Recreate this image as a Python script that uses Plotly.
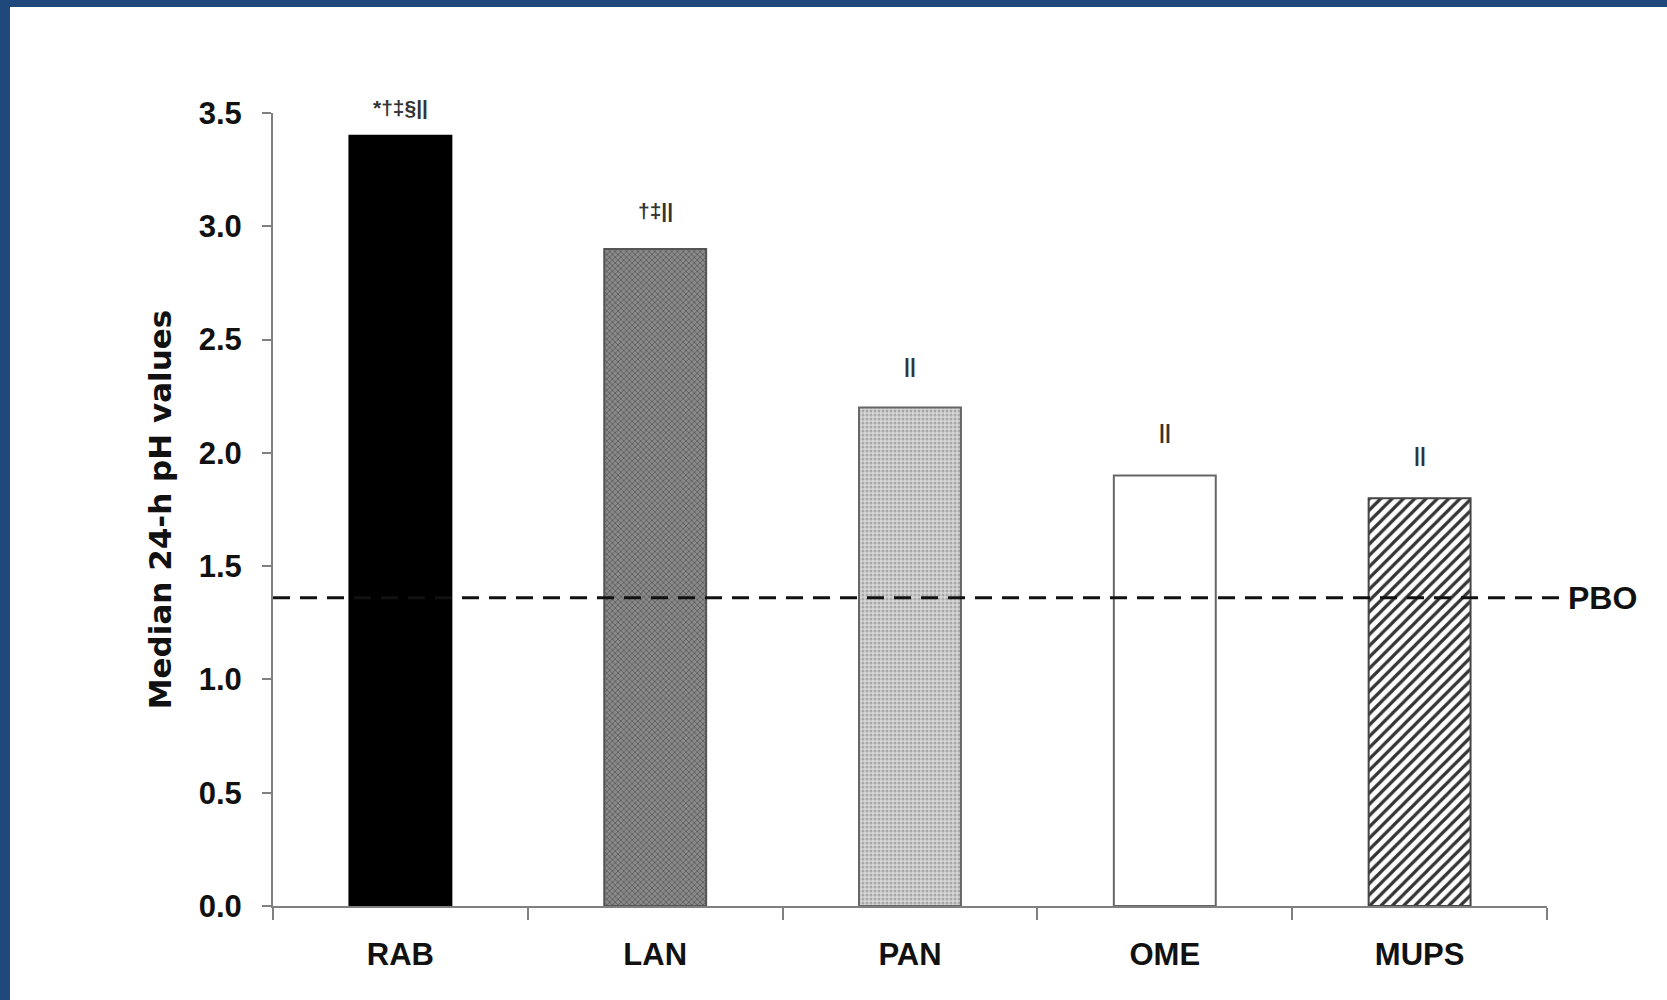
import plotly.graph_objects as go

# ---- data ----
categories = ["RAB", "LAN", "PAN", "OME", "MUPS"]
median_ph = [3.40, 2.90, 2.20, 1.90, 1.80]
sig_labels = ["*†‡§||", "†‡||", "||", "||", "||"]
pbo_value = 1.36
pbo_label = "PBO"
y_title = "Median 24-h pH values"
y_ticks = [0.0, 0.5, 1.0, 1.5, 2.0, 2.5, 3.0, 3.5]

# ---- styles ----
pattern_shapes = ["", "x", ".", "", "/"]
pattern_fg = ["#000000", "#555555", "#a8a8a8", "#ffffff", "#333333"]
pattern_bg = ["#000000", "#8a8a8a", "#d8d8d8", "#ffffff", "#ffffff"]
pattern_size = [8, 4, 4, 8, 8]
pattern_solid = [0.3, 0.35, 0.45, 0.3, 0.4]
outline_colors = ["#000000", "#555555", "#666666", "#666666", "#444444"]
label_shift = [28, 38, 42, 44, 44]

W, H = 1667, 1000
ML, MR, MT, MB = 273, 120, 113, 94
PW, PH = W - ML - MR, H - MT - MB
FONT = "Liberation Sans, Arial, sans-serif"


def px_x(px):
    return (px - ML) / PW


def px_y(py):
    return 1 - (py - MT) / PH


fig = go.Figure()
for i, (c, v) in enumerate(zip(categories, median_ph)):
    pat = dict(shape=pattern_shapes[i], fgcolor=pattern_fg[i], bgcolor=pattern_bg[i],
               size=pattern_size[i], solidity=pattern_solid[i], fillmode="replace")
    fig.add_trace(go.Bar(
        x=[c], y=[v], width=0.4, name=c,
        marker=dict(color=pattern_bg[i], line=dict(color=outline_colors[i], width=2),
                    pattern=pat),
        showlegend=False, hoverinfo="x+y",
    ))

annotations = []
for c, v, t, s in zip(categories, median_ph, sig_labels, label_shift):
    annotations.append(dict(x=c, y=v, xref="x", yref="y", text=t, showarrow=False,
                            yshift=s, font=dict(family=FONT, size=21, color="#333333", weight="bold")))
annotations.append(dict(x=px_x(1566), y=pbo_value, xref="paper", yref="y", text=pbo_label,
                        showarrow=False, xanchor="left", yanchor="middle",
                        font=dict(family=FONT, size=32, color="#111111", weight="bold")))

shapes = [
    dict(type="line", xref="paper", yref="y", x0=0, x1=px_x(1563), y0=pbo_value, y1=pbo_value,
         line=dict(color="#111111", width=3, dash="17px,10px"), layer="above"),
    # frame borders (left and top)
    dict(type="rect", xref="paper", yref="paper", x0=px_x(0), x1=px_x(10), y0=px_y(H), y1=px_y(0),
         fillcolor="#1F497D", line=dict(width=0), layer="above"),
    dict(type="rect", xref="paper", yref="paper", x0=px_x(0), x1=px_x(W), y0=px_y(7), y1=px_y(0),
         fillcolor="#1F497D", line=dict(width=0), layer="above"),
]

fig.update_layout(
    width=W, height=H,
    margin=dict(l=ML, r=MR, t=MT, b=MB, autoexpand=False),
    paper_bgcolor="white", plot_bgcolor="white",
    annotations=annotations, shapes=shapes,
    barmode="overlay",
)
fig.update_xaxes(
    type="category", range=[-0.5, 4.5], showline=True, linecolor="#808080", linewidth=2,
    ticks="outside", tickson="boundaries", ticklen=12, tickcolor="#808080", tickwidth=2,
    showgrid=False, zeroline=False, automargin=False, ticklabelstandoff=20,
    tickfont=dict(family=FONT, size=31, color="#111111", weight="bold"),
)
fig.update_yaxes(
    range=[0, 3.5], tickvals=y_ticks, tickformat=".1f", showline=True, linecolor="#808080",
    linewidth=2, ticks="outside", ticklen=9, tickcolor="#808080", tickwidth=2,
    showgrid=False, zeroline=False, automargin=False, ticklabelstandoff=14,
    tickfont=dict(family=FONT, size=31, color="#111111", weight="bold"),
    title=dict(text=y_title, standoff=18,
               font=dict(family="DejaVu Sans, sans-serif", size=31, color="#111111", weight="bold")),
)

fig.write_html("out.html", config={"displayModeBar": False},
               post_script="document.body.style.margin='0';document.body.style.overflow='hidden';")
